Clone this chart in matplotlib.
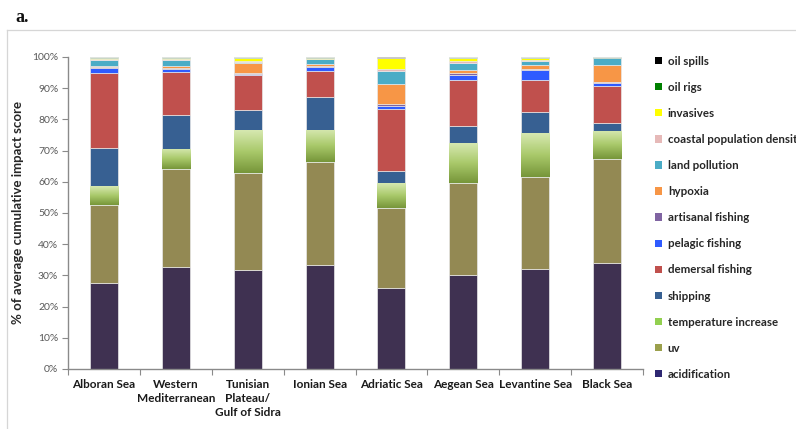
import numpy as np
import matplotlib
matplotlib.use("Agg")
import matplotlib.pyplot as plt
from matplotlib.patches import Patch
from matplotlib.colors import LinearSegmentedColormap
from matplotlib.lines import Line2D

# Regions and stressor contributions (% of average cumulative impact score)
regions = ["Alboran Sea", "Western\nMediterranean", "Tunisian\nPlateau/\nGulf of Sidra",
           "Ionian Sea", "Adriatic Sea", "Aegean Sea", "Levantine Sea", "Black Sea"]

acidification        = [27.7, 32.7, 31.7, 33.4, 26.0, 30.2, 32.2, 34.1]
uv                   = [24.9, 31.3, 31.2, 32.8, 25.7, 29.3, 29.4, 33.1]
temperature_increase = [5.9, 6.5, 13.7, 10.4, 8.0, 12.8, 14.1, 9.2]
shipping             = [12.2, 10.8, 6.4, 10.5, 3.9, 5.7, 6.8, 2.4]
demersal_fishing     = [24.1, 13.8, 11.2, 8.5, 19.7, 14.6, 10.1, 12.0]
pelagic_fishing      = [1.6, 1.1, 0.3, 1.3, 1.1, 1.7, 3.3, 0.8]
artisanal_fishing    = [0.3, 0.2, 0.5, 0.2, 0.4, 0.5, 0.2, 0.4]
hypoxia              = [0.5, 0.8, 3.2, 0.7, 6.4, 1.0, 1.3, 5.4]
land_pollution       = [1.9, 1.8, 0.2, 1.5, 4.4, 2.2, 1.3, 2.2]
coastal_population   = [0.3, 0.3, 0.3, 0.2, 0.5, 0.6, 0.2, 0.1]
invasives            = [0.4, 0.5, 1.0, 0.3, 3.6, 1.1, 0.9, 0.1]
oil_rigs             = [0.1, 0.1, 0.2, 0.1, 0.1, 0.2, 0.1, 0.2]
oil_spills           = [0.1, 0.1, 0.1, 0.1, 0.2, 0.1, 0.1, 0.0]

series_names = ["acidification", "uv", "temperature increase", "shipping",
                "demersal fishing", "pelagic fishing", "artisanal fishing", "hypoxia",
                "land pollution", "coastal population density", "invasives",
                "oil rigs", "oil spills"]
series_values = [acidification, uv, temperature_increase, shipping, demersal_fishing,
                 pelagic_fishing, artisanal_fishing, hypoxia, land_pollution,
                 coastal_population, invasives, oil_rigs, oil_spills]
bar_colors = ["#3F3151", "#938953", "#9BBB59", "#376092", "#C0504D", "#2F5BFF",
              "#8064A2", "#F79646", "#4BACC6", "#E6B9B8", "#FFFF00", "#1E7B1E", "#111111"]
legend_colors = ["#2E2872", "#9BA04C", "#92D050", "#376092", "#C0504D", "#2F5BFF",
                 "#8064A2", "#F79646", "#4BACC6", "#E6B9B8", "#FFFF00", "#008000", "#000000"]

W, H = 796, 429
fig = plt.figure(figsize=(W / 100, H / 100), dpi=100)
ax = fig.add_axes([68 / W, 1 - 369 / H, (643 - 68) / W, (369 - 57) / H])

x = np.arange(len(regions))
bottom = np.zeros(len(regions))
temp_bars = None
for name, vals, col in zip(series_names, series_values, bar_colors):
    vals = np.array(vals)
    bars = ax.bar(x, vals, width=0.39, bottom=bottom, color=col,
                  edgecolor="#e8e8e8", linewidth=0.5, zorder=2)
    if name == "temperature increase":
        temp_bars = bars
    bottom += vals

# vertical gradient fill for the temperature segments
grad_cmap = LinearSegmentedColormap.from_list("tgrad", ["#77963A", "#A9C96A", "#D6E8B0"])
grad = np.linspace(0, 1, 64).reshape(-1, 1)
for b in temp_bars:
    x0, y0 = b.get_x(), b.get_y()
    im = ax.imshow(grad, extent=[x0, x0 + b.get_width(), y0, y0 + b.get_height()],
                   origin="lower", aspect="auto", cmap=grad_cmap, zorder=2.5)
    im.set_clip_path(b)

ax.set_xlim(-0.5, len(regions) - 0.5)
ax.set_ylim(0, 100)

axis_gray = "#8a8a8a"
for s in ["top", "right"]:
    ax.spines[s].set_visible(False)
for s in ["left", "bottom"]:
    ax.spines[s].set_color(axis_gray)
    ax.spines[s].set_linewidth(1.0)

ax.set_yticks(np.arange(0, 101, 10))
ax.set_yticklabels([f"{v}%" for v in range(0, 101, 10)],
                   fontsize=7.5, color="#595959", family="Lato")
ax.tick_params(axis="y", direction="out", length=4, color=axis_gray, pad=3)

ax.set_xticks(np.arange(-0.5, len(regions), 1.0))
ax.set_xticklabels([])
ax.tick_params(axis="x", direction="out", length=4, color=axis_gray)
for i, lab in enumerate(regions):
    ax.text(i, -3.2, lab, ha="center", va="top", fontsize=8.5, fontweight="bold",
            family="Lato", color="#1a1a1a", linespacing=1.35)

ax.set_ylabel("% of average cumulative impact score", fontsize=9.5,
              fontweight="bold", family="Lato", color="#262626", labelpad=6)

handles = [Patch(facecolor=c, edgecolor="none") for c in legend_colors[::-1]]
leg = fig.legend(handles, series_names[::-1], loc="upper left",
                 bbox_to_anchor=(650 / W, 1 - 51 / H), frameon=False,
                 prop={"family": "Lato", "weight": "bold", "size": 8.3},
                 handlelength=0.6, handleheight=0.6, handletextpad=0.55,
                 labelspacing=1.31, borderaxespad=0)
for t in leg.get_texts():
    t.set_color("#262626")

# panel frame and label
fig.add_artist(Line2D([7 / W, 7 / W], [0, 1 - 30 / H], color="#d6d6d6", lw=0.9,
                      transform=fig.transFigure))
fig.add_artist(Line2D([7 / W, 1], [1 - 30 / H, 1 - 30 / H], color="#d6d6d6", lw=0.9,
                      transform=fig.transFigure))
fig.text(15 / W, 1 - 17 / H, "a.", fontsize=13, fontweight="bold",
         family="Liberation Serif", va="center", ha="left", color="#111111")

fig.savefig("out.png", dpi=100)
